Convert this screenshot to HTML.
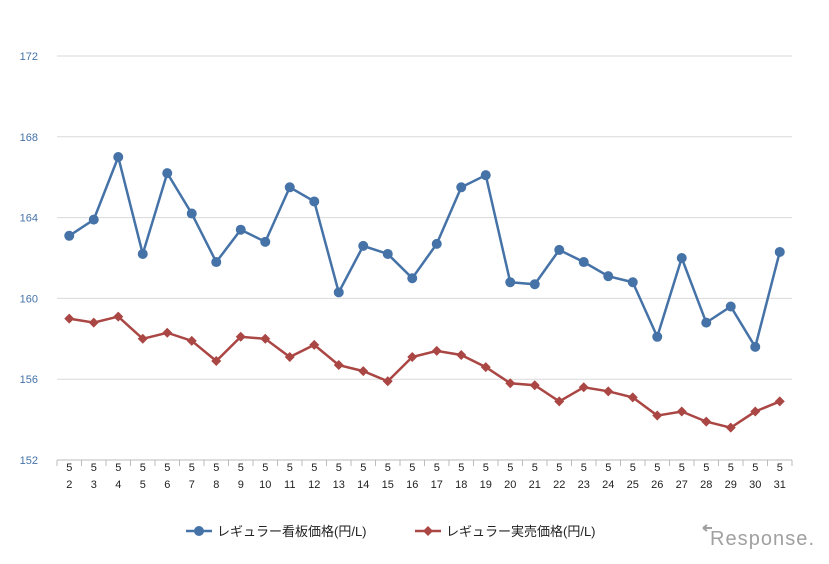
<!DOCTYPE html>
<html><head><meta charset="utf-8"><style>
body{margin:0;background:#fff;font-family:"Liberation Sans","Noto Sans CJK JP",sans-serif}
svg text{font-family:"Liberation Sans","Noto Sans CJK JP",sans-serif}
</style></head><body>
<svg id="c" width="829" height="559"></svg>
<script>
const days=[2,3,4,5,6,7,8,9,10,11,12,13,14,15,16,17,18,19,20,21,22,23,24,25,26,27,28,29,30,31];
const signPrice=[163.1,163.9,167.0,162.2,166.2,164.2,161.8,163.4,162.8,165.5,164.8,160.3,162.6,162.2,161.0,162.7,165.5,166.1,160.8,160.7,162.4,161.8,161.1,160.8,158.1,162.0,158.8,159.6,157.6,162.3];
const actualPrice=[159.0,158.8,159.1,158.0,158.3,157.9,156.9,158.1,158.0,157.1,157.7,156.7,156.4,155.9,157.1,157.4,157.2,156.6,155.8,155.7,154.9,155.6,155.4,155.1,154.2,154.4,153.9,153.6,154.4,154.9];
const yTicks=[152,156,160,164,168,172];
const svg=document.getElementById('c');const NS='http://www.w3.org/2000/svg';
const L=57,R=792,T=56,B=460,ymin=152,ymax=172;
const xs=i=>L+(R-L)/days.length*(i+0.5);
const ys=v=>B-(v-ymin)/(ymax-ymin)*(B-T);
function mk(t,a,p){const e=document.createElementNS(NS,t);for(const k in a)e.setAttribute(k,a[k]);(p||svg).appendChild(e);return e;}
yTicks.forEach(v=>{
 const g=mk('line',{x1:L,x2:R,y1:ys(v),y2:ys(v),stroke:v===ymin?'#bbb':'#d9d9d9','stroke-width':1});
 
 
 const t=mk('text',{x:38,y:ys(v)+4,'text-anchor':'end','font-size':11,fill:'#4472a8'});t.textContent=v;
 
 
});
days.forEach((d,i)=>{
 const bx=L+(R-L)/days.length*i;
 const tk=mk('line',{x1:bx,x2:bx,y1:B,y2:B+6,stroke:'#bbb'});
 
 
 const t1=mk('text',{x:xs(i),y:471,'text-anchor':'middle','font-size':11,fill:'#222'});t1.textContent='5';
 
 
 const t2=mk('text',{x:xs(i),y:488,'text-anchor':'middle','font-size':11,fill:'#222'});t2.textContent=d;
 
 
});
const rt=mk('line',{x1:R,x2:R,y1:B,y2:B+6,stroke:'#bbb'});


function series(vals,color,name,marker){
 const pl=mk('polyline',{points:vals.map((v,i)=>xs(i)+','+ys(v)).join(' '),fill:'none',stroke:color,'stroke-width':2.5});
 
 
 vals.forEach((v,i)=>{let m;
  if(marker==='circle')m=mk('circle',{cx:xs(i),cy:ys(v),r:5,fill:color});
  else{const x=xs(i),y=ys(v);m=mk('polygon',{points:`${x},${y-5} ${x+5},${y} ${x},${y+5} ${x-5},${y}`,fill:color});}
  
  
 });
}
series(signPrice,'#4572a7','sign-price','circle');
series(actualPrice,'#aa4643','actual-price','diamond');
const lg=mk('g',{});


mk('line',{x1:186,x2:212,y1:531,y2:531,stroke:'#4572a7','stroke-width':2.5},lg);
mk('circle',{cx:199,cy:531,r:5,fill:'#4572a7'},lg);
const tA=mk('text',{x:217,y:536,'font-size':13,fill:'#222'},lg);tA.textContent='レギュラー看板価格(円/L)';


mk('line',{x1:415,x2:441,y1:531,y2:531,stroke:'#aa4643','stroke-width':2.5},lg);
mk('polygon',{points:'428,526 433,531 428,536 423,531',fill:'#aa4643'},lg);
const tB=mk('text',{x:446,y:536,'font-size':13,fill:'#222'},lg);tB.textContent='レギュラー実売価格(円/L)';


const arr=mk('path',{d:'M703,528 L712,528 M703,528 L707,525 M703,528 L707,531',stroke:'#a0a0a0','stroke-width':2,fill:'none'});


const wm=mk('text',{x:814,y:545,'text-anchor':'end','font-size':20,fill:'#a0a0a0','textLength':104});wm.textContent='Response.';


</script>
</body></html>
